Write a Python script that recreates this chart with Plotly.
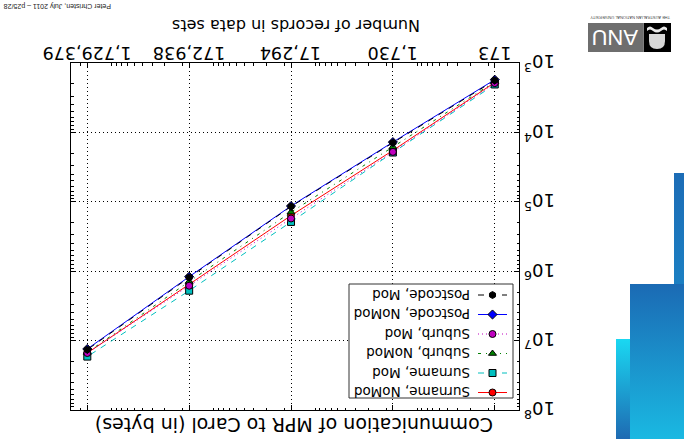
import math
import plotly.graph_objects as go

W, H = 684, 439

# Data: communication cost (bytes) against number of records
records = [173, 1730, 17294, 172938, 1729379]
record_labels = ["173", "1,730", "17,294", "172,938", "1,729,379"]

byte_ticks = [1e3, 1e4, 1e5, 1e6, 1e7, 1e8]
byte_tick_labels = ["10<sup>3</sup>", "10<sup>4</sup>", "10<sup>5</sup>",
                    "10<sup>6</sup>", "10<sup>7</sup>", "10<sup>8</sup>"]

series_names = ["Surname, NoMod", "Surname, Mod", "Suburb, NoMod",
                "Suburb, Mod", "Postcode, NoMod", "Postcode, Mod"]
surname_nomod = [1910, 18200, 158000, 1550000, 15100000]
surname_mod = [2040, 19500, 195000, 1910000, 17000000]
suburb_nomod = [1860, 16200, 141000, 1410000, 14800000]
suburb_mod = [1950, 19100, 174000, 1620000, 15100000]
postcode_nomod = [1740, 13800, 115000, 1200000, 13200000]
postcode_mod = [1780, 14100, 117000, 1230000, 13500000]
series_values = [surname_nomod, surname_mod, suburb_nomod,
                 suburb_mod, postcode_nomod, postcode_mod]

series_colors = ["#ff0000", "#00bfbf", "#008000", "#bf00bf", "#0000ff", "#000000"]
series_dashes = ["solid", "6px,6px", "3px,5px,1px,5px", "1px,3px", "solid", "6px,6px"]
series_symbols = ["circle", "square", "triangle-up", "circle", "diamond", "hexagon"]

FONT = "DejaVu Sans"

# Plot area in pixels (the whole page is drawn upside down)
PX0, PX1, PY0, PY1 = 71, 519, 63, 410

fig = go.Figure()

for name, vals, col, dash, sym in zip(series_names, series_values, series_colors,
                                      series_dashes, series_symbols):
    fig.add_trace(go.Scatter(
        x=records, y=vals, name=name, mode="lines+markers",
        line=dict(color=col, width=1, dash=dash),
        marker=dict(symbol=sym, size=7, color=col, line=dict(color="black", width=1)),
        xaxis="x", yaxis="y", showlegend=False,
    ))


def rect_trace(x0, x1, y0, y1, top, bottom):
    """Gradient-filled rectangle in page pixels."""
    return go.Scatter(
        x=[x0, x1, x1, x0, x0], y=[y0, y0, y1, y1, y0], mode="lines",
        fill="toself", line=dict(width=0),
        fillgradient=dict(type="vertical", colorscale=[[0, top], [1, bottom]],
                          start=y0, stop=y1),
        xaxis="x2", yaxis="y2", hoverinfo="skip", showlegend=False,
    )


# Decorative bars at the lower right
fig.add_trace(rect_trace(674, 684, 173, 439, "#1c6cb6", "#1a9ad4"))
fig.add_trace(rect_trace(630, 684, 284, 439, "#1b6ab4", "#1ab9e2"))
fig.add_trace(rect_trace(616, 630, 339, 439, "#1ad8f2", "#1e6ab2"))

# Legend box, drawn upside down
LX0, LX1, LY0, LY1 = 349, 513, 284, 398
fig.add_trace(go.Scatter(
    x=[LX0, LX1, LX1, LX0, LX0], y=[LY0, LY0, LY1, LY1, LY0], mode="lines",
    fill="toself", fillcolor="white", line=dict(color="#333333", width=1),
    xaxis="x2", yaxis="y2", hoverinfo="skip", showlegend=False,
))
row_y = [392.5, 373, 353.5, 334, 314.5, 295]
for name, col, dash, sym, ry in zip(series_names, series_colors, series_dashes,
                                    series_symbols, row_y):
    fig.add_trace(go.Scatter(
        x=[478, 507], y=[ry, ry], mode="lines",
        line=dict(color=col, width=1, dash=dash),
        xaxis="x2", yaxis="y2", hoverinfo="skip", showlegend=False,
    ))
    fig.add_trace(go.Scatter(
        x=[492.5], y=[ry], mode="markers",
        marker=dict(symbol=sym, size=7, color=col, line=dict(color="black", width=1)),
        xaxis="x2", yaxis="y2", hoverinfo="skip", showlegend=False,
    ))
    fig.add_annotation(x=472, y=ry, xref="x2", yref="y2", text=name,
                       showarrow=False, textangle=180, xanchor="right",
                       yanchor="middle", font=dict(family=FONT, size=13.5, color="black"))

# Upside-down tick labels placed through the axis scales
for rec, lab in zip(records, record_labels):
    fig.add_annotation(x=math.log10(rec), xref="x", y=1 - 53 / H, yref="paper",
                       text=lab, showarrow=False, textangle=180,
                       xanchor="center", yanchor="middle",
                       font=dict(family=FONT, size=17.5, color="black"))
for val, lab in zip(byte_ticks, byte_tick_labels):
    fig.add_annotation(x=522 / W, xref="paper", y=math.log10(val), yref="y",
                       text=lab, showarrow=False, textangle=180,
                       xanchor="left", yanchor="middle",
                       font=dict(family=FONT, size=18, color="black"))

# Axis titles
fig.add_annotation(x=296, y=26, xref="x2", yref="y2",
                   text="Number of records in data sets", showarrow=False,
                   textangle=180, font=dict(family=FONT, size=16, color="black"))
fig.add_annotation(x=294, y=425, xref="x2", yref="y2",
                   text="Communication of MPR to Carol (in bytes)", showarrow=False,
                   textangle=180, font=dict(family=FONT, size=19, color="black"))

# Footer
fig.add_annotation(x=2, y=6, xref="x2", yref="y2", xanchor="left",
                   text="Peter Christen, July 2011 \u2013 p25/28", showarrow=False,
                   textangle=180, font=dict(family="Liberation Sans", size=7, color="#222222"))

# University logo
shapes = [
    dict(type="rect", xref="x2", yref="y2", x0=588, x1=643, y0=23, y1=52,
         fillcolor="#6e6e6e", line=dict(width=0)),
    dict(type="rect", xref="x2", yref="y2", x0=643.5, x1=671, y0=23, y1=52,
         fillcolor="#000000", line=dict(width=0)),
    dict(type="path", xref="x2", yref="y2",
         path="M 647 28 Q 650 25 653 28 Q 657 31 661 28 Q 664 25 667 28 L 667 31 "
              "Q 664 28 661 31 Q 657 34 653 31 Q 650 28 647 31 Z",
         fillcolor="#e8e8e8", line=dict(width=0)),
    dict(type="path", xref="x2", yref="y2",
         path="M 649 34 L 665 34 L 665 41 Q 665 49 657 49 Q 649 49 649 41 Z",
         fillcolor="#d8d8d8", line=dict(width=0)),
]
fig.add_annotation(x=615.5, y=37.5, xref="x2", yref="y2", text="ANU", showarrow=False,
                   textangle=180, font=dict(family="Liberation Sans", size=22, color="white"))
fig.add_annotation(x=630, y=17.5, xref="x2", yref="y2",
                   text="THE AUSTRALIAN NATIONAL UNIVERSITY", showarrow=False,
                   textangle=180, font=dict(family="Liberation Sans", size=4, color="#444444"))

axis_common = dict(
    type="log", showline=True, linecolor="black", linewidth=1, mirror="allticks",
    ticks="inside", ticklen=5, tickcolor="black", tickwidth=1,
    showgrid=True, gridcolor="black", gridwidth=1, griddash="1px,3px",
    zeroline=False, showticklabels=False, automargin=False,
    minor=dict(ticks="inside", ticklen=2.5, tickcolor="black", dtick="D1", showgrid=False),
)

fig.update_layout(
    width=W, height=H, template="none",
    margin=dict(l=0, r=0, t=0, b=0, pad=0),
    paper_bgcolor="white", plot_bgcolor="rgba(0,0,0,0)",
    showlegend=False,
    shapes=shapes,
    xaxis=dict(axis_common, domain=[PX0 / W, PX1 / W], side="top",
               range=[math.log10(2.5e6), 2],
               tickmode="array", tickvals=records, anchor="y"),
    yaxis=dict(axis_common, domain=[1 - PY1 / H, 1 - PY0 / H], side="right",
               range=[8, 3], tickmode="array", tickvals=byte_ticks, anchor="x"),
    xaxis2=dict(domain=[0, 1], range=[0, W], visible=False, anchor="y2", fixedrange=True),
    yaxis2=dict(domain=[0, 1], range=[H, 0], visible=False, anchor="x2", fixedrange=True),
)

fig.write_html("out.html")
